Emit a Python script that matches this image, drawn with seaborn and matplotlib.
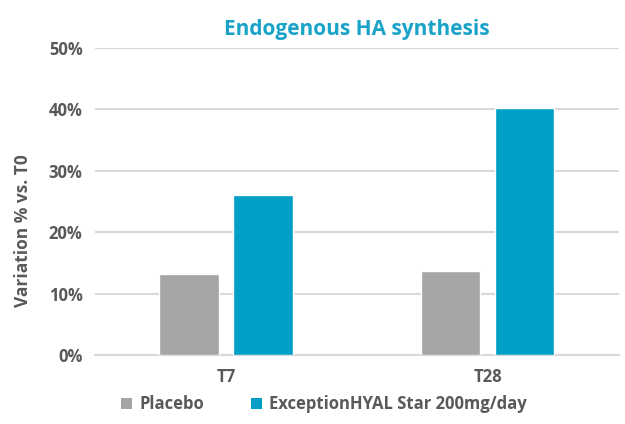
import matplotlib
matplotlib.use("Agg")
import matplotlib.pyplot as plt
import seaborn as sns
import pandas as pd
from matplotlib.patches import Patch
from matplotlib.ticker import PercentFormatter

# chart data
timepoints = ["T7", "T28"]
groups = ["Placebo", "ExceptionHYAL Star 200mg/day"]
placebo = [13.2, 13.7]
hyal = [26.1, 40.3]

colors = ["#A5A5A5", "#009FC6"]
text_grey = "#595959"
grid_grey = "#D9D9D9"

df = pd.DataFrame({
    "time": timepoints * 2,
    "group": [groups[0]] * 2 + [groups[1]] * 2,
    "value": placebo + hyal,
})

sns.set_style("white")
plt.rcParams["font.family"] = ["Open Sans", "DejaVu Sans"]
plt.rcParams["font.weight"] = "bold"

fig = plt.figure(figsize=(6.25, 4.24), dpi=100)
ax = fig.add_axes([0.152, 0.1616, 0.838, 0.7252])

sns.barplot(data=df, x="time", y="value", hue="group", order=timepoints,
            hue_order=groups, palette=colors, width=0.565, gap=0.2,
            errorbar=None, ax=ax, legend=False, zorder=3, saturation=1)

ax.set_ylim(0, 50)
ax.set_yticks(range(0, 51, 10))
ax.yaxis.set_major_formatter(PercentFormatter(decimals=0))
ax.grid(axis="y", color=grid_grey, linewidth=1.5, zorder=0)
ax.set_axisbelow(True)
for side in ["left", "right", "top"]:
    ax.spines[side].set_visible(False)
ax.spines["bottom"].set_color(grid_grey)
ax.spines["bottom"].set_linewidth(1.5)
ax.tick_params(axis="both", length=0, labelsize=12, labelcolor=text_grey, pad=9)
for lbl in ax.get_xticklabels() + ax.get_yticklabels():
    lbl.set_fontweight("bold")

ax.set_xlabel("")
ax.set_ylabel("Variation % vs. T0", fontsize=12.5, fontweight="bold", color=text_grey)
ax.yaxis.set_label_coords(-0.12, 0.405)

ax.set_title("Endogenous HA synthesis", fontsize=15, fontweight="bold",
             color="#1AA3C8", pad=9)

handles = [Patch(facecolor=c, edgecolor="none") for c in colors]
fig.legend(handles, groups, loc="lower center", bbox_to_anchor=(0.518, -0.01),
           ncol=2, frameon=False, handlelength=0.7, handleheight=0.7,
           handletextpad=0.4, columnspacing=2.8,
           prop={"size": 12, "weight": "bold"}, labelcolor=text_grey)

fig.savefig("out.png", dpi=100)
